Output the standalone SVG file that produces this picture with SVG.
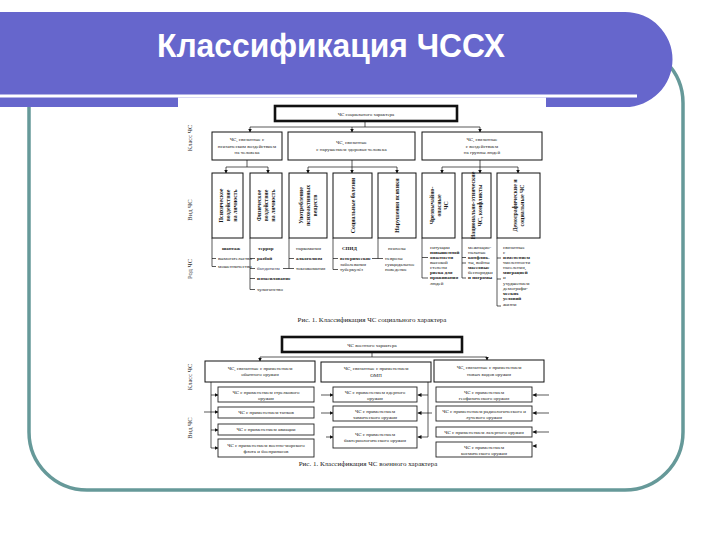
<svg xmlns="http://www.w3.org/2000/svg" width="720" height="540" viewBox="0 0 720 540">
<style>
.bx{fill:#fff;stroke:#111;stroke-width:1}
.thk{stroke-width:2.6}
.ib{fill:#fff;stroke:#222;stroke-width:0.9}
.t{font-family:"Liberation Serif","DejaVu Serif",serif;font-size:5px;fill:#1a1a1a}
.c{text-anchor:middle}
.b{font-weight:bold}
.vt{font-family:"Liberation Serif","DejaVu Serif",serif;font-size:5.8px;font-weight:bold;fill:#1a1a1a;text-anchor:middle}
.lab{font-family:"Liberation Serif","DejaVu Serif",serif;font-size:6.5px;fill:#333;text-anchor:middle}
.cap{font-family:"Liberation Serif","DejaVu Serif",serif;font-size:7px;fill:#222;text-anchor:middle}
.ln{stroke:#111;stroke-width:0.7;fill:none}
.ar{stroke:#111;stroke-width:0.7;fill:none;marker-end:url(#ah)}
</style>
<defs>
<marker id="ah" viewBox="0 0 6 6" refX="6" refY="3" markerWidth="4" markerHeight="4" markerUnits="userSpaceOnUse" orient="auto">
<path d="M0,0 L6,3 L0,6 Z" fill="#111"/>
</marker>
</defs>
<rect width="720" height="540" fill="#fff"/>
<g id="slide-frame">
<rect x="29" y="45" width="654" height="445" rx="58" ry="58" fill="none" stroke="#669999" stroke-width="3.5"/>
<path d="M0,12 H625 A47.5,47.5 0 0 1 625,107 H0 Z" fill="#6666cc"/>
<rect x="0" y="94.5" width="637" height="3" fill="#fff"/>
<rect x="178" y="97.5" width="368" height="375" fill="#fff"/>
<text x="157" y="57" font-family="Liberation Sans, Arial, sans-serif" font-size="33" font-weight="bold" fill="#fff" textLength="348" lengthAdjust="spacingAndGlyphs">Классификация ЧССХ</text>
</g>

<g id="connectors">
<path class="ln" d="M365,121 V127 M250,127 H480"/>
<path class="ar" d="M250,127 V132.5"/>
<path class="ar" d="M352,127 V132.5"/>
<path class="ar" d="M480,127 V132.5"/>
<path class="ln" d="M247,160 V167 M226,167 H268"/>
<path class="ar" d="M226,167 V173.5"/>
<path class="ar" d="M268,167 V173.5"/>
<path class="ln" d="M352,160 V167 M308,167 H397"/>
<path class="ar" d="M308,167 V173.5"/>
<path class="ar" d="M352,167 V173.5"/>
<path class="ar" d="M397,167 V173.5"/>
<path class="ln" d="M480,160 V167 M442,167 H518"/>
<path class="ar" d="M442,167 V173.5"/>
<path class="ar" d="M480,167 V173.5"/>
<path class="ar" d="M518,167 V173.5"/>
<path class="ln" d="M212,238 V266.5 M212,258.5 h4 M212,266.5 h4"/>
<path class="ln" d="M250,238 V289.5 M250,258.5 h5 M250,268.5 h5 M250,278.5 h5 M250,289.5 h5"/>
<path class="ln" d="M289,238 V268.5 M289,258.5 h5 M283,268.5 h11"/>
<path class="ln" d="M333,238 V269.5 M333,258.5 h5 M333,269.5 h5"/>
<path class="ln" d="M378,238 V258.5 M372,258.5 h11"/>
<path class="ln" d="M422,238 V278 M422,257.5 h6 M422,278 h6"/>
<path class="ln" d="M462,238 V278 M462,257.5 h4 M462,263 h4 M462,278 h4"/>
<path class="ln" d="M497,238 V306 M497,258 h4 M497,279 h4 M497,306 h4"/>

<path class="ln" d="M372,352 V357 M260,357 H487"/>
<path class="ar" d="M260,357 V361.5"/>
<path class="ar" d="M487,357 V360.5"/>
<path class="ln" d="M211,382 V448"/>
<path class="ar" d="M211,395 H218.5"/>
<path class="ar" d="M204,412 H218.5"/>
<path class="ar" d="M211,430 H218.5"/>
<path class="ar" d="M211,448 H218.5"/>
<path class="ar" d="M321,395 H333.5"/>
<path class="ar" d="M321,413 H333.5"/>
<path class="ar" d="M326,437 H333.5"/>
<path class="ln" d="M428,382 V437"/>
<path class="ar" d="M428,395 H417.5"/>
<path class="ar" d="M432,413 H417.5"/>
<path class="ar" d="M428,437 H417.5"/>
<path class="ar" d="M549,395 H532.5"/>
<path class="ar" d="M549,413 H532.5"/>
<path class="ar" d="M549,432 H532.5"/>
<path class="ar" d="M536,446 H532.5"/>
</g>

<g id="axis-labels-1">
<text class="lab" transform="translate(192,138) rotate(-90)">Класс ЧС</text>
<text class="lab" transform="translate(192,210) rotate(-90)">Вид ЧС</text>
<text class="lab" transform="translate(192,269) rotate(-90)">Род ЧС</text>
</g>

<g id="n-social">
<rect class="bx thk" x="275" y="106" width="182" height="15"/>
<text class="t c" x="366" y="115.5" font-size="6.3">ЧС социального характера</text>
</g>
<g id="n-class-a">
<rect class="bx" x="212" y="132" width="70" height="28"/>
<text class="t c" x="247" y="141" font-size="5.3"><tspan x="247">ЧС, связанные с</tspan><tspan x="247" dy="6.5">психическим воздействием</tspan><tspan x="247" dy="6.5">на человека</tspan></text>
</g>
<g id="n-class-b">
<rect class="bx" x="288" y="132" width="127" height="28"/>
<text class="t c" x="351.5" y="144" font-size="5.5"><tspan x="351.5">ЧС, связанные</tspan><tspan x="351.5" dy="7">с нарушением здоровья человека</tspan></text>
</g>
<g id="n-class-c">
<rect class="bx" x="422" y="132" width="120" height="28"/>
<text class="t c" x="482" y="141" font-size="5.5"><tspan x="482">ЧС, связанные</tspan><tspan x="482" dy="6.5">с воздействием</tspan><tspan x="482" dy="6.5">на группы людей</tspan></text>
</g>

<g id="n-v1">
<rect class="bx" x="212" y="173" width="31" height="65"/>
<text class="vt" transform="translate(227.5,205.5) rotate(-90)"><tspan x="0" y="-4.9">Психическое</tspan><tspan x="0" y="2.1">воздействие</tspan><tspan x="0" y="9.1">на личность</tspan></text>
</g>
<g id="n-v2">
<rect class="bx" x="250" y="173" width="32" height="65"/>
<text class="vt" transform="translate(266,205.5) rotate(-90)"><tspan x="0" y="-4.9">Физическое</tspan><tspan x="0" y="2.1">воздействие</tspan><tspan x="0" y="9.1">на личность</tspan></text>
</g>
<g id="n-v3">
<rect class="bx" x="289" y="173" width="38" height="65"/>
<text class="vt" transform="translate(308,205.5) rotate(-90)"><tspan x="0" y="-4.9">Употребление</tspan><tspan x="0" y="2.1">психоактивных</tspan><tspan x="0" y="9.1">веществ</tspan></text>
</g>
<g id="n-v4">
<rect class="bx" x="333" y="173" width="39" height="65"/>
<text class="vt" transform="translate(352.5,205.5) rotate(-90)"><tspan x="0" y="2.1">Социальные болезни</tspan></text>
</g>
<g id="n-v5">
<rect class="bx" x="378" y="173" width="38" height="65"/>
<text class="vt" transform="translate(397,205.5) rotate(-90)"><tspan x="0" y="2.1">Нарушения психики</tspan></text>
</g>
<g id="n-v6">
<rect class="bx" x="422" y="173" width="33" height="65"/>
<text class="vt" transform="translate(438.5,205.5) rotate(-90)" font-size="5.5"><tspan x="0" y="-4.9">Чрезвычайно-</tspan><tspan x="0" y="2.1">опасные</tspan><tspan x="0" y="9.1">ЧС</tspan></text>
</g>
<g id="n-v7">
<rect class="bx" x="462" y="173" width="29" height="65"/>
<text class="vt" transform="translate(476.5,205.5) rotate(-90)" font-size="5.2"><tspan x="0" y="-1.5">Национально-этнические</tspan><tspan x="0" y="5.5">ЧС, конфликты</tspan></text>
</g>
<g id="n-v8">
<rect class="bx" x="497" y="173" width="43" height="65"/>
<text class="vt" transform="translate(518.5,205.5) rotate(-90)" font-size="5.5"><tspan x="0" y="-1.5">Демографические и</tspan><tspan x="0" y="5.5">социальные ЧС</tspan></text>
</g>

<g id="n-list-v1" class="t" font-size="4.7">
<text class="b" x="222" y="250">шантаж</text>
<text x="218" y="260">вымогательство</text>
<text x="218" y="268">мошенничество</text>
</g>
<g id="n-list-v2" class="t" font-size="4.7">
<text class="b" x="258" y="250">террор</text>
<text class="b" x="257" y="260">разбой</text>
<text x="257" y="270" fill="#335">бандитизм</text>
<text class="b" x="257" y="280">изнасилование</text>
<text x="257" y="291">хулиганство</text>
</g>
<g id="n-list-v3" class="t" font-size="4.7">
<text x="296" y="250">наркомания</text>
<text class="b" x="296" y="260">алкоголизм</text>
<text x="296" y="270">токсикомания</text>
</g>
<g id="n-list-v4" class="t" font-size="4.7">
<text class="b" x="342" y="250">СПИД</text>
<text class="b" x="340" y="260">венерические</text>
<text x="340" y="265.5">заболевания</text>
<text x="340" y="271">туберкулёз</text>
</g>
<g id="n-list-v5" class="t" font-size="4.7">
<text x="388" y="250">психозы</text>
<text x="385" y="260">неврозы</text>
<text x="385" y="265.5">суицидальное</text>
<text x="385" y="271">поведение</text>
</g>
<g id="n-list-v6" class="t" font-size="4.5">
<text x="430" y="249">ситуации</text>
<text class="b" x="430" y="254">повышенной</text>
<text class="b" x="430" y="259">опасности</text>
<text x="430" y="264">высокой</text>
<text x="430" y="269">степени</text>
<text class="b" x="430" y="274">риска для</text>
<text class="b" x="430" y="279">проживания</text>
<text x="430" y="285">людей</text>
</g>
<g id="n-list-v7" class="t" font-size="4.5">
<text x="468" y="249">межнацио-</text>
<text x="468" y="254">нальные</text>
<text class="b" x="468" y="259">конфлик-</text>
<text x="468" y="264">ты, войны</text>
<text class="b" x="468" y="269">массовые</text>
<text x="468" y="274">беспорядки</text>
<text class="b" x="468" y="279">и погромы</text>
</g>
<g id="n-list-v8" class="t" font-size="4.5">
<text x="503" y="249">связанные</text>
<text x="503" y="254">с</text>
<text class="b" x="503" y="259">изменением</text>
<text x="503" y="264">численности</text>
<text x="503" y="269">населения,</text>
<text class="b" x="503" y="274">миграцией</text>
<text x="503" y="279">и</text>
<text x="503" y="285">ухудшением</text>
<text x="503" y="290">демографи-</text>
<text class="b" x="503" y="295">ческих</text>
<text class="b" x="503" y="300">условий</text>
<text x="503" y="306">жизни</text>
</g>
<g id="caption-1">
<text class="cap" x="372" y="322">Рис. 1. Классификация ЧС социального характера</text>
</g>

<g id="axis-labels-2">
<text class="lab" transform="translate(192,377) rotate(-90)">Класс ЧС</text>
<text class="lab" transform="translate(192,428) rotate(-90)">Вид ЧС</text>
</g>
<g id="n-military">
<rect class="bx thk" x="282" y="337" width="180" height="15"/>
<text class="t c" x="372" y="346.5" font-size="6.3">ЧС военного характера</text>
</g>
<g id="n-k1">
<rect class="bx" x="205" y="361" width="110" height="21"/>
<text class="t c" x="260" y="369.5"><tspan x="260">ЧС, связанные с применением</tspan><tspan x="260" dy="6.5">обычного оружия</tspan></text>
</g>
<g id="n-k2">
<rect class="bx" x="321" y="362" width="110" height="20"/>
<text class="t c" x="376" y="370"><tspan x="376">ЧС, связанные с применением</tspan><tspan x="376" dy="6.5">ОМП</tspan></text>
</g>
<g id="n-k3">
<rect class="bx" x="434" y="360" width="110" height="22"/>
<text class="t c" x="489" y="369"><tspan x="489">ЧС, связанные с применением</tspan><tspan x="489" dy="6.5">новых видов оружия</tspan></text>
</g>

<g id="n-i1a">
<rect class="ib" x="218" y="387" width="96" height="15"/>
<text class="t c" x="266" y="393.5"><tspan x="266">ЧС с применением стрелкового</tspan><tspan x="266" dy="6">оружия</tspan></text>
</g>
<g id="n-i1b">
<rect class="ib" x="218" y="407" width="96" height="11"/>
<text class="t c" x="266" y="414">ЧС с применением танков</text>
</g>
<g id="n-i1c">
<rect class="ib" x="218" y="424" width="96" height="11"/>
<text class="t c" x="266" y="431">ЧС с применением авиации</text>
</g>
<g id="n-i1d">
<rect class="ib" x="218" y="439" width="96" height="18" stroke="#555" stroke-width="1.4"/>
<text class="t c" x="266" y="446.5"><tspan x="266">ЧС с применением военно-морского</tspan><tspan x="266" dy="6.5">флота и боеприпасов</tspan></text>
</g>
<g id="n-i2a">
<rect class="ib" x="333" y="387" width="84" height="15"/>
<text class="t c" x="375" y="393.5"><tspan x="375">ЧС с применением ядерного</tspan><tspan x="375" dy="6">оружия</tspan></text>
</g>
<g id="n-i2b">
<rect class="ib" x="333" y="406" width="84" height="15"/>
<text class="t c" x="375" y="412.5"><tspan x="375">ЧС с применением</tspan><tspan x="375" dy="6">химического оружия</tspan></text>
</g>
<g id="n-i2c">
<rect class="ib" x="333" y="427" width="84" height="21"/>
<text class="t c" x="375" y="436"><tspan x="375">ЧС с применением</tspan><tspan x="375" dy="6">бактериологического оружия</tspan></text>
</g>
<g id="n-i3a">
<rect class="ib" x="436" y="387" width="96" height="15"/>
<text class="t c" x="484" y="393.5"><tspan x="484">ЧС с применением</tspan><tspan x="484" dy="6">геофизического оружия</tspan></text>
</g>
<g id="n-i3b">
<rect class="ib" x="436" y="406" width="96" height="15"/>
<text class="t c" x="484" y="412.5"><tspan x="484">ЧС с применением радиологического и</tspan><tspan x="484" dy="6">лучевого оружия</tspan></text>
</g>
<g id="n-i3c">
<rect class="ib" x="436" y="427" width="96" height="10"/>
<text class="t c" x="484" y="433.5">ЧС с применением лазерного оружия</text>
</g>
<g id="n-i3d">
<rect class="ib" x="436" y="442" width="96" height="15"/>
<text class="t c" x="484" y="448.5"><tspan x="484">ЧС с применением</tspan><tspan x="484" dy="6">космического оружия</tspan></text>
</g>
<g id="caption-2">
<text class="cap" x="368" y="466">Рис. 1. Классификация ЧС военного характера</text>
</g>
</svg>
